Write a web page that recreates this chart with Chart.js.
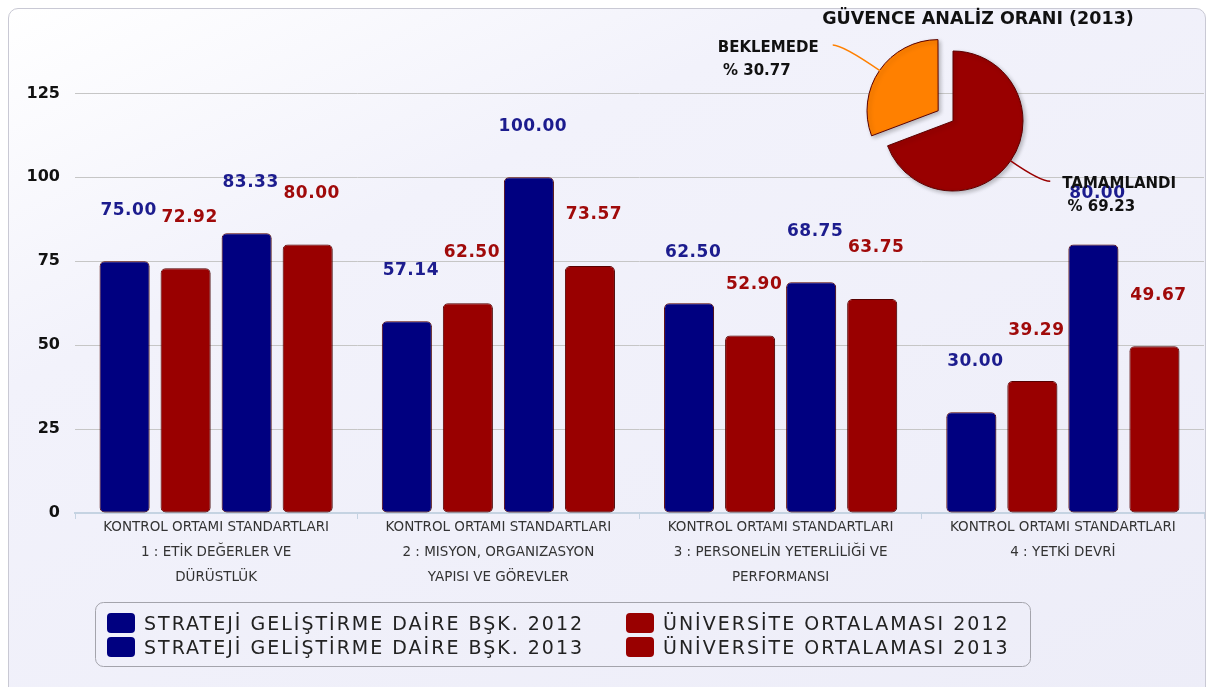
<!DOCTYPE html>
<html>
<head>
<meta charset="utf-8">
<script src="https://cdn.jsdelivr.net/npm/chart.js@4.4.1/dist/chart.umd.min.js"></script>
<style>
    html, body { margin: 0; padding: 0; background: #fff; }
    #wrap { position: relative; width: 1214px; height: 687px; overflow: hidden; }
    #frame {
        position: absolute; left: 8px; top: 8px; width: 1196px; height: 700px;
        border: 1px solid #c9c9d4; border-radius: 10px;
        background: linear-gradient(155deg, #ffffff 0%, #f2f2fb 30%, #ededf8 100%);
    }
    #bars { position: absolute; left: 0; top: 0; }
    #pie { position: absolute; left: 700px; top: 0; pointer-events: none; }
</style>
</head>
<body>
<div id="wrap">
    <div id="frame"></div>
    <canvas id="bars" width="1214" height="687"></canvas>
    <canvas id="pie" width="506" height="242"></canvas>
</div>
<script>
// --- data ---
const categories = [
    ['KONTROL ORTAMI STANDARTLARI', '1 : ETİK DEĞERLER VE', 'DÜRÜSTLÜK'],
    ['KONTROL ORTAMI STANDARTLARI', '2 : MISYON, ORGANIZASYON', 'YAPISI VE GÖREVLER'],
    ['KONTROL ORTAMI STANDARTLARI', '3 : PERSONELİN YETERLİLİĞİ VE', 'PERFORMANSI'],
    ['KONTROL ORTAMI STANDARTLARI', '4 : YETKİ DEVRİ']
];
const seriesNames = [
    'STRATEJİ GELİŞTİRME DAİRE BŞK. 2012',
    'ÜNİVERSİTE ORTALAMASI 2012',
    'STRATEJİ GELİŞTİRME DAİRE BŞK. 2013',
    'ÜNİVERSİTE ORTALAMASI 2013'
];
const birim2012 = [75.00, 57.14, 62.50, 30.00];
const universite2012 = [72.92, 62.50, 52.90, 39.29];
const birim2013 = [83.33, 100.00, 68.75, 80.00];
const universite2013 = [80.00, 73.57, 63.75, 49.67];
const yTicks = [0, 25, 50, 75, 100, 125];

const pieTitle = 'GÜVENCE ANALİZ ORANI (2013)';
const pieLabels = ['TAMAMLANDI', 'BEKLEMEDE'];
const pieValues = [69.23, 30.77];

const BLUE = '#000080';
const RED = '#990000';
const FONT = '"DejaVu Sans", Verdana, sans-serif';

// shadow under the bars / slices
const softShadow = {
    id: 'softShadow',
    beforeDatasetsDraw(chart) {
        const ctx = chart.ctx;
        ctx.save();
        ctx.shadowColor = 'rgba(0,0,0,0.25)';
        ctx.shadowBlur = 4;
        ctx.shadowOffsetX = 2;
        ctx.shadowOffsetY = 2;
    },
    afterDatasetsDraw(chart) {
        chart.ctx.restore();
    }
};

// value labels above the bars
const barValueLabels = {
    id: 'barValueLabels',
    afterDatasetsDraw(chart) {
        const ctx = chart.ctx;
        ctx.save();
        ctx.font = 'bold 17px ' + FONT;
        ctx.letterSpacing = '0.5px';
        ctx.textAlign = 'center';
        ctx.textBaseline = 'middle';
        chart.data.datasets.forEach((ds, i) => {
            ctx.fillStyle = ds.labelColor;
            chart.getDatasetMeta(i).data.forEach((bar, j) => {
                ctx.fillText(ds.data[j].toFixed(2), bar.x + 4, bar.y - 51);
            });
        });
        ctx.restore();
    }
};

// boxed two-column legend
const boxLegend = {
    id: 'boxLegend',
    afterDraw(chart) {
        const ctx = chart.ctx;
        ctx.save();
        ctx.beginPath();
        ctx.roundRect(95.5, 602.5, 935, 64, 8);
        ctx.strokeStyle = '#a4a4ac';
        ctx.lineWidth = 1;
        ctx.stroke();
        ctx.font = '19px ' + FONT;
        ctx.letterSpacing = '2px';
        ctx.textBaseline = 'middle';
        chart.data.datasets.forEach((ds, i) => {
            const x = (i % 2) ? 626 : 107;
            const y = 624 + Math.floor(i / 2) * 24;
            ctx.fillStyle = ds.backgroundColor;
            ctx.beginPath();
            ctx.roundRect(x, y - 11, 28, 20, 4);
            ctx.fill();
            ctx.fillStyle = '#222';
            ctx.fillText(ds.label, x + 37, y + 1);
        });
        ctx.restore();
    }
};

const barChart = new Chart(document.getElementById('bars'), {
    type: 'bar',
    data: {
        labels: categories,
        datasets: [
            { label: seriesNames[0], data: birim2012, backgroundColor: BLUE, labelColor: '#1c1c8e' },
            { label: seriesNames[1], data: universite2012, backgroundColor: RED, labelColor: '#a00a0a' },
            { label: seriesNames[2], data: birim2013, backgroundColor: BLUE, labelColor: '#1c1c8e' },
            { label: seriesNames[3], data: universite2013, backgroundColor: RED, labelColor: '#a00a0a' }
        ]
    },
    options: {
        responsive: false,
        animation: false,
        events: [],
        layout: { padding: { top: 43, right: 10, left: 0, bottom: 0 } },
        datasets: {
            bar: {
                barPercentage: 0.82,
                categoryPercentage: 0.865,
                borderRadius: 5,
                borderSkipped: false,
                borderWidth: 1,
                borderColor: '#5a0000'
            }
        },
        scales: {
            x: {
                grid: { drawOnChartArea: false, drawTicks: true, tickLength: 6, color: '#c5d3e2' },
                border: { color: '#c5d3e2', width: 2 },
                ticks: {
                    autoSkip: false,
                    maxRotation: 0,
                    padding: -4,
                    color: '#333',
                    font: { family: FONT, size: 13.5, lineHeight: '25px' }
                },
                afterFit(scale) { scale.height = 174; }
            },
            y: {
                min: 0,
                max: 140,
                grid: {
                    drawTicks: false,
                    color: ctx => ctx.tick && ctx.tick.value === 0 ? 'rgba(0,0,0,0)' : '#c6c6c6'
                },
                border: { display: false },
                ticks: {
                    padding: 15,
                    color: '#111',
                    font: { family: FONT, size: 16, weight: 'bold' }
                },
                afterBuildTicks(scale) { scale.ticks = yTicks.map(v => ({ value: v })); },
                afterFit(scale) { scale.width = 75; }
            }
        },
        plugins: {
            legend: { display: false },
            tooltip: { enabled: false }
        }
    },
    plugins: [softShadow, barValueLabels, boxLegend]
});

// title and callout labels for the pie
const pieCallouts = {
    id: 'pieCallouts',
    afterDraw(chart) {
        const ctx = chart.ctx;
        const ds = chart.data.datasets[0];
        ctx.save();
        ctx.font = 'bold 17.5px ' + FONT;
        ctx.fillStyle = '#111';
        ctx.textAlign = 'center';
        ctx.textBaseline = 'middle';
        ctx.fillText(pieTitle, 278, 19);

        ctx.font = 'bold 15px ' + FONT;
        chart.getDatasetMeta(0).data.forEach((arc, i) => {
            const mid = (arc.startAngle + arc.endAngle) / 2;
            const dx = Math.cos(mid), dy = Math.sin(mid);
            const shift = (arc.options.offset || 0) / 4;
            const ex = arc.x + dx * (shift + arc.outerRadius);
            const ey = arc.y + dy * (shift + arc.outerRadius);
            const side = dx < 0 ? -1 : 1;
            const reach = side < 0 ? 46 : 36;
            const kx = ex + dx * reach, ky = ey + dy * reach;
            const tx = kx + side * 10, ty = ky;
            ctx.beginPath();
            ctx.moveTo(ex, ey);
            ctx.quadraticCurveTo(kx, ky, tx, ty);
            ctx.strokeStyle = ds.backgroundColor[i];
            ctx.lineWidth = 1.5;
            ctx.stroke();

            const lines = [chart.data.labels[i], ' % ' + ds.data[i].toFixed(2)];
            ctx.fillStyle = '#111';
            ctx.textAlign = 'left';
            const w = ctx.measureText(lines[0]).width;
            const lx = side < 0 ? tx - 14 - w : tx + 12;
            ctx.fillText(lines[0], lx, ty + 3);
            ctx.fillText(lines[1], lx, ty + 26);
        });
        ctx.restore();
    }
};

const pieChart = new Chart(document.getElementById('pie'), {
    type: 'pie',
    data: {
        labels: pieLabels,
        datasets: [{
            data: pieValues,
            backgroundColor: [RED, '#ff8000'],
            borderColor: '#5a0000',
            borderWidth: 1,
            offset: [0, 72]
        }]
    },
    options: {
        responsive: false,
        animation: false,
        events: [],
        radius: 70,
        plugins: {
            legend: { display: false },
            tooltip: { enabled: false }
        }
    },
    plugins: [softShadow, pieCallouts]
});
</script>
</body>
</html>
